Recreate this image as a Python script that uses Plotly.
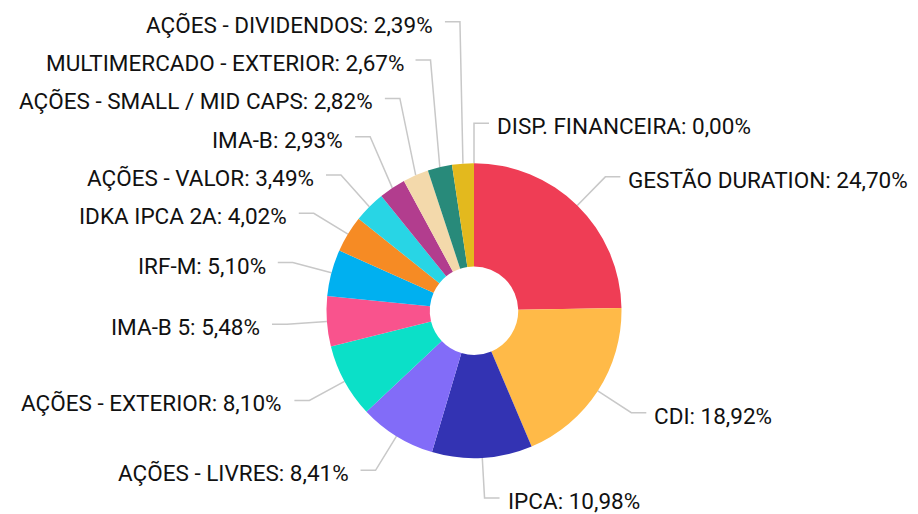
import math
import plotly.graph_objects as go

# ---------------- data ----------------
categories = [
    "GESTÃO DURATION", "CDI", "IPCA", "AÇÕES - LIVRES", "AÇÕES - EXTERIOR",
    "IMA-B 5", "IRF-M", "IDKA IPCA 2A", "AÇÕES - VALOR", "IMA-B",
    "AÇÕES - SMALL / MID CAPS", "MULTIMERCADO - EXTERIOR", "AÇÕES - DIVIDENDOS",
    "DISP. FINANCEIRA",
]
values = [24.70, 18.92, 10.98, 8.41, 8.10, 5.48, 5.10, 4.02, 3.49, 2.93, 2.82, 2.67, 2.39, 0.00]
colors = [
    "#EF3D55", "#FFBA48", "#3333B3", "#826CF8", "#0BE0C8",
    "#F9538D", "#00B0F0", "#F68B24", "#28D5E5", "#B23D8E",
    "#F3D9AB", "#288A7A", "#E3B91E", "#5B9BD5",
]

# ---------------- layout parameters (page pixels) ----------------
PAGE_W, PAGE_H = 918, 514
OFF = 8                      # default page body margin
FW, FH = PAGE_W - OFF, PAGE_H - OFF
CX, CY, R = 474.0, 310.7, 147.5
HOLE = 0.3
L1 = 40.0      # radial part of leader line
L2 = 15.0      # horizontal part of leader line
GAP_R, GAP_L = 7.0, 11.0   # distance between leader end and text
MIN_SEP = 38.3             # min vertical distance between labels
FONT = dict(family="Roboto, Open Sans, sans-serif", size=22.5, color="#111111")
LINE_COLOR = "#C8C8C8"


def fmt(v):
    return f"{v:.2f}".replace(".", ",") + "%"


labels = [f"{c}: {fmt(v)}" for c, v in zip(categories, values)]

# ---------------- label layout (computed from the data) ----------------
total = sum(values)
items = []
cum = 0.0
for i, v in enumerate(values):
    frac = (cum + v / 2.0) / total
    ang = (2 * math.pi * frac) % (2 * math.pi)
    cum += v
    dx, dy = math.sin(ang), -math.cos(ang)  # screen coords (y down)
    if abs(dx) < 1e-9:
        dx = 0.0
    side = 1 if dx >= 0 else -1
    x0, y0 = CX + R * dx, CY + R * dy
    x1, y1 = CX + (R + L1) * dx, CY + (R + L1) * dy
    items.append(dict(i=i, side=side, x0=x0, y0=y0, x1=x1, y1=y1, ly=y1))

# avoid overlaps: push labels upward from the bottom on each side
for side in (1, -1):
    grp = sorted([it for it in items if it["side"] == side], key=lambda t: -t["y1"])
    prev = None
    for it in grp:
        if prev is not None and it["ly"] > prev - MIN_SEP:
            it["ly"] = prev - MIN_SEP
        prev = it["ly"]

fig = go.Figure()

fig.add_trace(go.Pie(
    labels=categories, values=values, sort=False, direction="clockwise",
    rotation=0, hole=HOLE, textinfo="none", showlegend=False,
    marker=dict(colors=colors, line=dict(width=0)),
    domain=dict(
        x=[(CX - R - OFF) / FW, (CX + R - OFF) / FW],
        y=[1 - (CY + R - OFF) / FH, 1 - (CY - R - OFF) / FH],
    ),
    hoverinfo="label+percent",
))

lx, ly = [], []
annotations = []
for it in items:
    x2 = it["x1"] + it["side"] * L2
    lx += [it["x0"], it["x1"], x2, None]
    ly += [it["y0"], it["ly"], it["ly"], None]
    tx = x2 + it["side"] * (GAP_R if it["side"] > 0 else GAP_L)
    annotations.append(dict(
        x=tx, y=it["ly"], xref="x", yref="y", text=labels[it["i"]],
        showarrow=False, xanchor="left" if it["side"] > 0 else "right",
        yanchor="middle", font=FONT, borderpad=0, yshift=-3,
    ))

fig.add_trace(go.Scatter(
    x=lx, y=ly, mode="lines", line=dict(color=LINE_COLOR, width=1.5),
    hoverinfo="skip", showlegend=False,
))

fig.update_layout(
    width=FW, height=FH, margin=dict(l=0, r=0, t=0, b=0),
    paper_bgcolor="white", plot_bgcolor="rgba(0,0,0,0)",
    xaxis=dict(range=[OFF, OFF + FW], visible=False, fixedrange=True),
    yaxis=dict(range=[OFF + FH, OFF], visible=False, fixedrange=True),
    annotations=annotations, showlegend=False,
)

fig.write_html("out.html")
